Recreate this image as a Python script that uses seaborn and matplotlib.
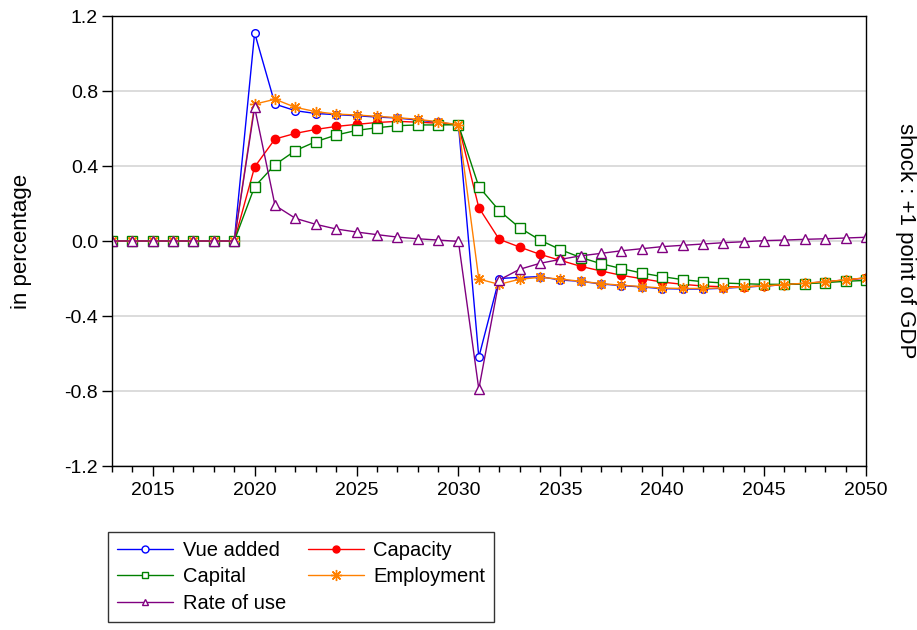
# Impulse responses to a +1 point of GDP shock

import pandas as pd
import matplotlib.pyplot as plt
import matplotlib.ticker as mticker
import seaborn as sns

years = list(range(2013, 2051))

zeros = [0.0] * 7

vue_added = zeros + [
    1.11, 0.73, 0.695, 0.68, 0.674, 0.668, 0.661, 0.656, 0.645, 0.633, 0.62,
    -0.62, -0.20, -0.194, -0.19, -0.208, -0.215, -0.229, -0.238, -0.245, -0.254,
    -0.256, -0.256, -0.252, -0.246, -0.24, -0.233, -0.226, -0.218, -0.208, -0.197,
]
capacity = zeros + [
    0.395, 0.544, 0.574, 0.595, 0.611, 0.622, 0.632, 0.638, 0.634, 0.628, 0.62,
    0.178, 0.009, -0.032, -0.071, -0.103, -0.135, -0.16, -0.183, -0.201, -0.219,
    -0.231, -0.24, -0.244, -0.244, -0.24, -0.233, -0.226, -0.218, -0.207, -0.197,
]
capital = zeros + [
    0.29, 0.407, 0.482, 0.53, 0.565, 0.59, 0.604, 0.615, 0.619, 0.619, 0.62,
    0.29, 0.162, 0.071, 0.005, -0.046, -0.088, -0.121, -0.147, -0.171, -0.19,
    -0.206, -0.217, -0.224, -0.228, -0.231, -0.231, -0.228, -0.222, -0.215, -0.21,
]
employment = zeros + [
    0.73, 0.756, 0.713, 0.69, 0.677, 0.672, 0.665, 0.658, 0.649, 0.636, 0.62,
    -0.203, -0.231, -0.204, -0.194, -0.203, -0.215, -0.227, -0.236, -0.243, -0.251,
    -0.253, -0.253, -0.25, -0.244, -0.239, -0.232, -0.225, -0.217, -0.207, -0.196,
]
rate_of_use = zeros + [
    0.713, 0.19, 0.121, 0.089, 0.064, 0.048, 0.034, 0.021, 0.012, 0.005, -0.002,
    -0.79, -0.208, -0.151, -0.119, -0.098, -0.079, -0.066, -0.052, -0.041, -0.03,
    -0.023, -0.016, -0.009, -0.004, 0.002, 0.005, 0.009, 0.012, 0.016, 0.02,
]

df = pd.DataFrame({
    "year": years,
    "Vue added": vue_added,
    "Capacity": capacity,
    "Capital": capital,
    "Employment": employment,
    "Rate of use": rate_of_use,
})

sns.set_style("white")
plt.rcParams["font.family"] = ["Liberation Sans", "DejaVu Sans"]
plt.rcParams["axes.unicode_minus"] = False
plt.rcParams["text.color"] = "black"
plt.rcParams["xtick.color"] = "black"
plt.rcParams["ytick.color"] = "black"

fig = plt.figure(figsize=(9.17, 6.3), dpi=100)
ax = fig.add_axes([0.1221, 0.2603, 0.8223, 0.7143])

styles = {
    "Vue added": dict(color="#0000ff", marker="o", mfc="white", mec="#0000ff", ms=5.5),
    "Capacity": dict(color="#ff0000", marker="o", mfc="#ff0000", mec="#ff0000", ms=6),
    "Capital": dict(color="#008000", marker="s", mfc="white", mec="#008000", ms=6.5),
    "Employment": dict(color="#ff8000", marker=(8, 2, 0), mfc="#ff8000", mec="#ff8000", ms=8),
    "Rate of use": dict(color="#800080", marker="^", mfc="white", mec="#800080", ms=7),
}

handles = {}
for name, st in styles.items():
    sns.lineplot(
        data=df, x="year", y=name, ax=ax,
        color=st["color"], lw=1.0,
        marker=st["marker"], markersize=st["ms"],
        markerfacecolor=st["mfc"], markeredgecolor=st["mec"],
        markeredgewidth=1.0,
        label=name, legend=False,
    )
    handles[name] = ax.lines[-1]

ax.set_xlim(2013, 2050)
ax.set_ylim(-1.2, 1.2)
ax.set_xlabel("")
ax.set_ylabel("")

ax.xaxis.set_major_locator(mticker.MultipleLocator(5))
ax.xaxis.set_minor_locator(mticker.MultipleLocator(1))
ax.yaxis.set_major_locator(mticker.MultipleLocator(0.4))
ax.yaxis.set_major_formatter(mticker.FormatStrFormatter("%.1f"))

ax.tick_params(axis="x", which="major", direction="out", length=7.5, width=1,
               labelsize=14, pad=4, bottom=True)
ax.tick_params(axis="x", which="minor", direction="out", length=4.5, width=1,
               bottom=True)
ax.tick_params(axis="y", which="major", direction="out", length=7, width=1,
               labelsize=14, pad=3, left=True, right=False)

ax.grid(axis="y", color="#dcdcdc", lw=1.4)
ax.grid(axis="x", visible=False)
for sp in ax.spines.values():
    sp.set_color("black")
    sp.set_linewidth(1.0)
    sp.set_visible(True)

fig.text(0.023, 0.6175, "in percentage", rotation=90, ha="center", va="center", fontsize=16)
fig.text(0.987, 0.6175, "shock : +1 point of GDP", rotation=270, ha="center", va="center",
         fontsize=16)

order = ["Vue added", "Capital", "Rate of use", "Capacity", "Employment"]
leg = fig.legend(
    [handles[n] for n in order], order,
    loc="lower left", bbox_to_anchor=(0.1178, 0.0127), ncol=2,
    fontsize=14.5, frameon=True, fancybox=False, edgecolor="black",
    handlelength=2.8, handletextpad=0.45, columnspacing=1.1,
    labelspacing=0.38, borderpad=0.45, borderaxespad=0,
)
leg.get_frame().set_linewidth(1.0)
for name, h in zip(order, leg.legend_handles):
    h.set_markersize(8 if name == "Employment" else 5)

fig.savefig("out.png", dpi=100)
